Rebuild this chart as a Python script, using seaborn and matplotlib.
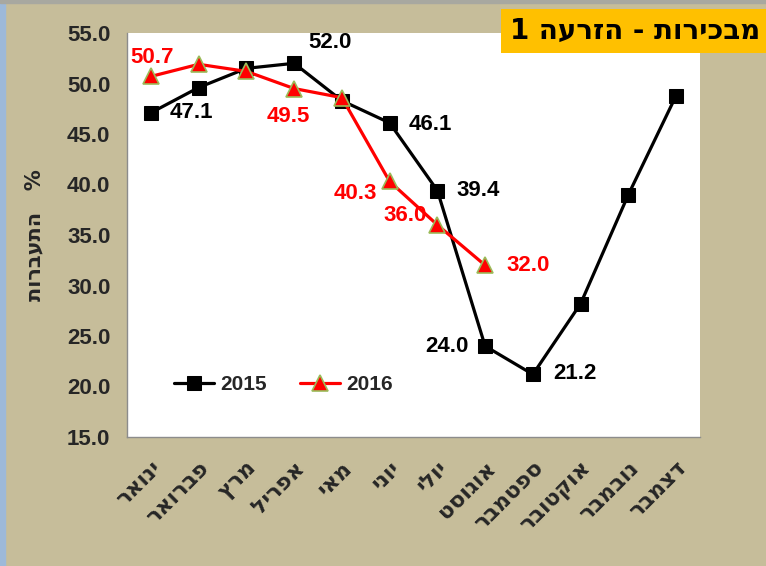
import numpy as np
import pandas as pd
import matplotlib
matplotlib.use('Agg')
import matplotlib.pyplot as plt
import matplotlib.transforms as mtransforms
import seaborn as sns
from matplotlib.patches import Rectangle

# Data
months = ['ינואר', 'פברואר', 'מרץ', 'אפריל', 'מאי', 'יוני', 'יולי',
          'אוגוסט', 'ספטמבר', 'אוקטובר', 'נובמבר', 'דצמבר']
val_2015 = [47.1, 49.6, 51.5, 52.0, 48.3, 46.1, 39.4, 24.0, 21.2, 28.2, 39.0, 48.8]
val_2016 = [50.7, 51.9, 51.2, 49.5, 48.6, 40.3, 36.0, 32.0]
title_text = 'מבכירות - הזרעה 1'
ylabel_text = 'התעברות'

# which points get a value label, and where (offset in px)
labels_2015 = {0: (40, 0), 3: (36, 21), 5: (41, -2), 6: (41, 0), 7: (-38, 0), 8: (42, 1)}
labels_2016 = {0: (1, 19), 3: (-6, -28), 5: (-34, -12), 6: (-32, 9), 7: (43, 0)}

df = pd.concat([
    pd.DataFrame({'x': np.arange(len(val_2015)), 'val': val_2015, 'year': '2015'}),
    pd.DataFrame({'x': np.arange(len(val_2016)), 'val': val_2016, 'year': '2016'}),
])

sns.set_style('white')
plt.rcParams['font.family'] = ['Liberation Sans', 'DejaVu Sans']
heb = ['DejaVu Sans']

bg = '#C6BD9A'
fig = plt.figure(figsize=(7.66, 5.66), dpi=100, facecolor=bg)
ax = fig.add_axes([127 / 766, 1 - 437 / 566, 573 / 766, 404 / 566])
ax.set_facecolor('white')

# frame strips of the original screenshot
fig.patches.append(Rectangle((0, 0), 5 / 766, 1, transform=fig.transFigure,
                             color='#9DB9D9', zorder=0))
fig.patches.append(Rectangle((0, 1 - 3 / 566), 1, 3 / 566, transform=fig.transFigure,
                             color='#A8A8A0', zorder=0))

sns.lineplot(data=df[df.year == '2015'], x='x', y='val', ax=ax, color='black',
             linewidth=2.3, marker='s', markersize=10, markeredgecolor='black',
             label='2015', zorder=3)
sns.lineplot(data=df[df.year == '2016'], x='x', y='val', ax=ax, color='#FF0000',
             linewidth=2.3, marker='^', markersize=11, markeredgecolor='#9BBB59',
             markeredgewidth=1.2, label='2016', zorder=4)

k = 0.72  # px -> points
for i, (dx, dy) in labels_2015.items():
    ax.annotate(f'{val_2015[i]:.1f}', (i, val_2015[i]), xytext=(dx * k, dy * k),
                textcoords='offset points', ha='center', va='center',
                fontsize=16, fontweight='bold', color='black', zorder=5)
for i, (dx, dy) in labels_2016.items():
    ax.annotate(f'{val_2016[i]:.1f}', (i, val_2016[i]), xytext=(dx * k, dy * k),
                textcoords='offset points', ha='center', va='center',
                fontsize=16, fontweight='bold', color='#FF0000', zorder=5)

ax.set_xlim(-0.5, len(months) - 0.5)
ax.set_ylim(15, 55)
ax.set_yticks(np.arange(15, 56, 5))
ax.set_yticklabels([f'{v:.1f}' for v in np.arange(15, 56, 5)],
                   fontsize=16, fontweight='bold')
ax.set_xticks(np.arange(len(months)))
ax.set_xticklabels([m[::-1] for m in months], rotation=45, ha='right',
                   rotation_mode='anchor', fontsize=16, fontweight='bold',
                   family=heb)
shift = mtransforms.ScaledTranslation(12 / 100, 0, fig.dpi_scale_trans)
for lab in ax.get_xticklabels():
    lab.set_transform(lab.get_transform() + shift)
ax.set_xticks(np.arange(-0.5, len(months)), minor=True)
ax.tick_params(axis='x', which='major', length=0, pad=15)
ax.tick_params(axis='x', which='minor', length=6, color='#8C8C8C', width=1)
ax.tick_params(axis='y', length=6, color='#8C8C8C', width=1, pad=6)
ax.set_xlabel('')
ax.set_ylabel(ylabel_text[::-1] + '   %', fontsize=15, fontweight='bold',
              labelpad=16, family=heb)

for s in ['top', 'right']:
    ax.spines[s].set_visible(False)
for s in ['left', 'bottom']:
    ax.spines[s].set_color('#8C8C8C')
    ax.spines[s].set_linewidth(1)

leg = ax.legend(loc='center left', bbox_to_anchor=(0.05, 0.13), ncol=2, frameon=False,
                prop={'size': 15, 'weight': 'bold'}, handlelength=1.9,
                columnspacing=1.6, handletextpad=0.3)

fig.text(1 - 6 / 766, 1 - 31 / 566, title_text[::-1], ha='right', va='center',
         fontsize=20, fontweight='bold', color='black', family=heb,
         bbox=dict(boxstyle='square,pad=0.3', facecolor='#FFC000', edgecolor='none'))

fig.savefig('out.png', dpi=100, facecolor=bg)
